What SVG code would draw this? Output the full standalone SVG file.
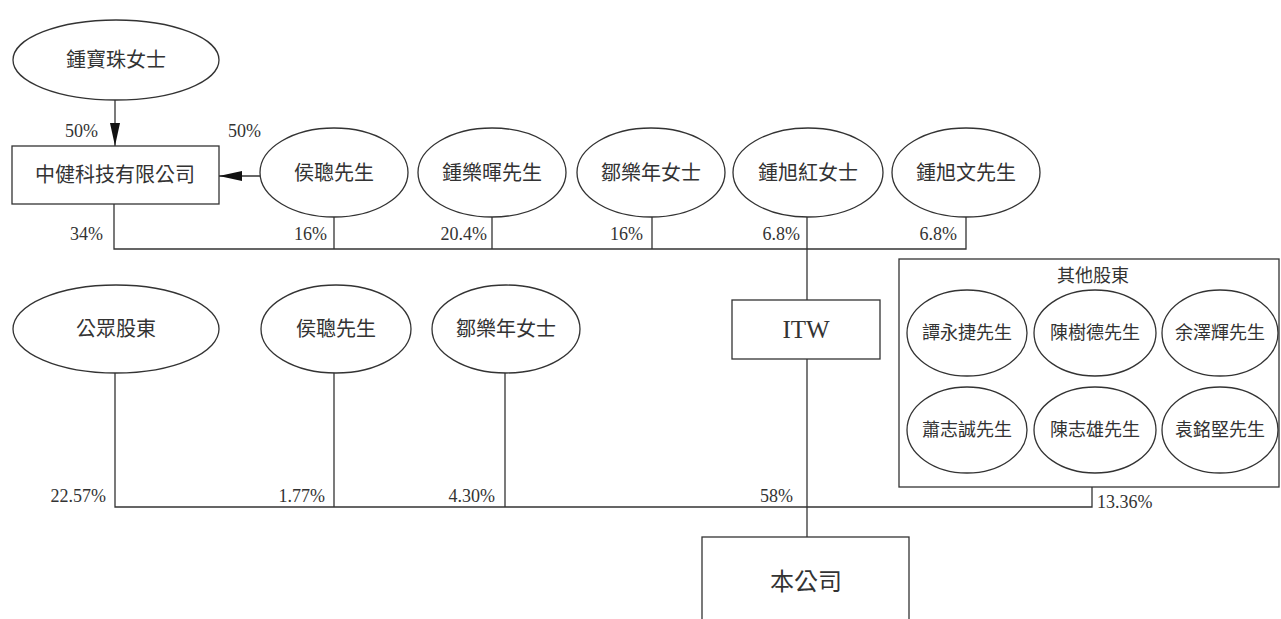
<svg xmlns="http://www.w3.org/2000/svg" width="1281" height="619" viewBox="0 0 1281 619">
<style>
.n{fill:#fff;stroke:#333;stroke-width:1.3}
.c{fill:none;stroke:#333;stroke-width:1.3}
.t{font-family:"Liberation Serif","Noto Sans CJK TC",serif;font-size:20px;fill:#333;text-anchor:middle}
.s{font-size:18px}
.p{font-family:"Liberation Serif",serif;font-size:18px;fill:#333}
.e{text-anchor:end}
</style>
<defs>
<marker id="ah" viewBox="0 0 23 10" refX="23" refY="5" markerWidth="23" markerHeight="10" markerUnits="userSpaceOnUse" orient="auto">
<path d="M0,0 L23,5 L0,10 Z" fill="#111"/>
</marker>
</defs>
<rect width="1281" height="619" fill="#fff"/>
<g id="connectors">
<line class="c" x1="115" y1="100" x2="115" y2="146" marker-end="url(#ah)"/>
<line class="c" x1="260" y1="176" x2="219" y2="176" marker-end="url(#ah)"/>
<polyline class="c" points="114,204 114,249 966,249 966,217"/>
<line class="c" x1="334" y1="217" x2="334" y2="249"/>
<line class="c" x1="492" y1="217" x2="492" y2="249"/>
<line class="c" x1="652" y1="217" x2="652" y2="249"/>
<line class="c" x1="807" y1="217" x2="807" y2="300"/>
<line class="c" x1="807" y1="359" x2="807" y2="537"/>
<polyline class="c" points="115,373 115,507 1092,507 1092,487"/>
<line class="c" x1="334" y1="373" x2="334" y2="507"/>
<line class="c" x1="505" y1="373" x2="505" y2="507"/>
</g>
<g id="labels">
<text class="p" x="65" y="137">50%</text>
<text class="p" x="228" y="137">50%</text>
<text class="p e" x="103" y="240">34%</text>
<text class="p e" x="327" y="240">16%</text>
<text class="p e" x="487" y="240">20.4%</text>
<text class="p e" x="643" y="240">16%</text>
<text class="p e" x="800" y="240">6.8%</text>
<text class="p e" x="957" y="240">6.8%</text>
<text class="p e" x="106" y="502">22.57%</text>
<text class="p e" x="325" y="502">1.77%</text>
<text class="p e" x="495" y="502">4.30%</text>
<text class="p e" x="793" y="502">58%</text>
<text class="p" x="1097" y="508">13.36%</text>
</g>
<g id="n-zhongbaozhu"><ellipse class="n" cx="116" cy="60" rx="103" ry="40"/><text class="t" x="116" y="67">鍾寶珠女士</text></g>
<g id="n-zhongjian"><rect class="n" x="12" y="146" width="207" height="58"/><text class="t" x="115" y="182">中健科技有限公司</text></g>
<g id="n-houcong1"><ellipse class="n" cx="334" cy="172.5" rx="74" ry="44.5"/><text class="t" x="334" y="180">侯聰先生</text></g>
<g id="n-zhonglehui"><ellipse class="n" cx="492" cy="172.5" rx="74" ry="44.5"/><text class="t" x="492" y="180">鍾樂暉先生</text></g>
<g id="n-zoulenian1"><ellipse class="n" cx="651" cy="172.5" rx="74" ry="44.5"/><text class="t" x="651" y="180">鄒樂年女士</text></g>
<g id="n-zhongxuhong"><ellipse class="n" cx="808" cy="172.5" rx="75" ry="44.5"/><text class="t" x="808" y="180">鍾旭紅女士</text></g>
<g id="n-zhongxuwen"><ellipse class="n" cx="966" cy="172.5" rx="74" ry="44.5"/><text class="t" x="966" y="180">鍾旭文先生</text></g>
<g id="n-public"><ellipse class="n" cx="116" cy="329" rx="103" ry="44"/><text class="t" x="116" y="336">公眾股東</text></g>
<g id="n-houcong2"><ellipse class="n" cx="336" cy="329" rx="75" ry="44"/><text class="t" x="336" y="336">侯聰先生</text></g>
<g id="n-zoulenian2"><ellipse class="n" cx="506" cy="329" rx="74" ry="44"/><text class="t" x="506" y="336">鄒樂年女士</text></g>
<g id="n-itw"><rect class="n" x="732" y="300" width="148" height="59"/><text class="t" x="806" y="338" style="font-size:25px">ITW</text></g>
<g id="n-company"><rect class="n" x="702" y="537" width="207" height="110"/><text class="t" x="806" y="590" style="font-size:24px">本公司</text></g>
<g id="n-others">
<rect class="n" x="899" y="259" width="380" height="228"/>
<text class="t s" x="1093" y="282">其他股東</text>
<ellipse class="n" cx="967" cy="333" rx="60" ry="43"/><text class="t s" x="967" y="339">譚永捷先生</text>
<ellipse class="n" cx="1095" cy="333" rx="61" ry="43"/><text class="t s" x="1095" y="339">陳樹德先生</text>
<ellipse class="n" cx="1220" cy="333" rx="58" ry="43"/><text class="t s" x="1220" y="339">余澤輝先生</text>
<ellipse class="n" cx="967" cy="430" rx="60" ry="43"/><text class="t s" x="967" y="436">蕭志誠先生</text>
<ellipse class="n" cx="1095" cy="430" rx="61" ry="43"/><text class="t s" x="1095" y="436">陳志雄先生</text>
<ellipse class="n" cx="1220" cy="430" rx="58" ry="43"/><text class="t s" x="1220" y="436">袁銘堅先生</text>
</g>
</svg>
